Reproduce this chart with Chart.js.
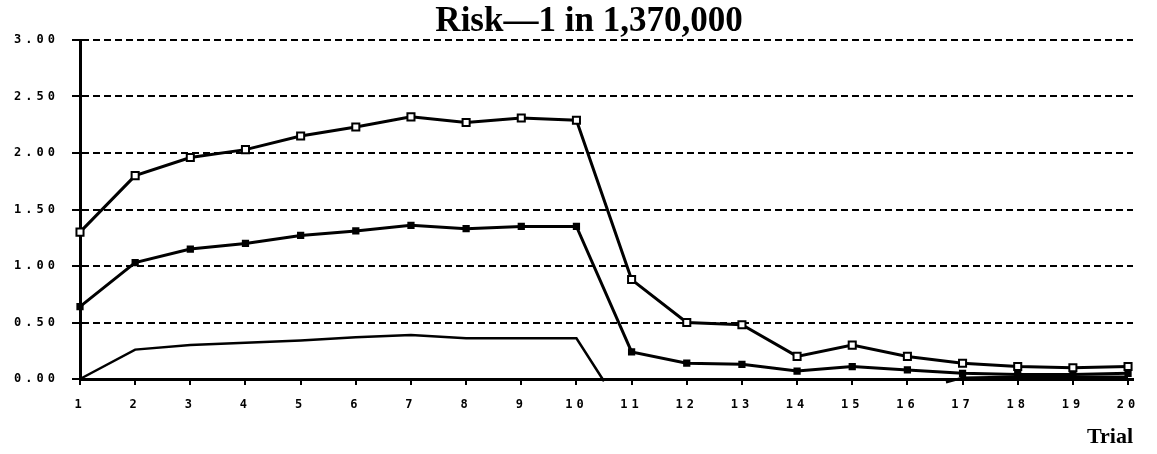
<!DOCTYPE html>
<html>
<head>
<meta charset="utf-8">
<script src="https://cdn.jsdelivr.net/npm/chart.js@4.4.1/dist/chart.umd.min.js"></script>
<style>
  html, body { margin: 0; padding: 0; background: #fff; }
  #wrap { width: 1157px; height: 454px; }
</style>
</head>
<body>
<div id="wrap"><canvas id="riskChart" width="1157" height="454"></canvas></div>
<script>
  // ---------- Data ----------
  const TITLE = "Risk\u20141 in 1,370,000";
  const X_TITLE = "Trial";
  const trials = [1, 2, 3, 4, 5, 6, 7, 8, 9, 10, 11, 12, 13, 14, 15, 16, 17, 18, 19, 20];
  const yTicks = [0, 0.5, 1, 1.5, 2, 2.5, 3];

  // upper curve, open squares
  const riskA = [1.30, 1.80, 1.96, 2.03, 2.15, 2.23, 2.32, 2.27, 2.31, 2.29,
                 0.88, 0.50, 0.48, 0.20, 0.30, 0.20, 0.14, 0.11, 0.10, 0.11];
  // middle curve, filled squares
  const riskB = [0.64, 1.03, 1.15, 1.20, 1.27, 1.31, 1.36, 1.33, 1.35, 1.35,
                 0.24, 0.14, 0.13, 0.07, 0.11, 0.08, 0.05, 0.04, 0.04, 0.05];
  // lower curve, breaks after it drops under the axis
  const riskCTrials = [1, 2, 3, 4, 5, 6, 7, 8, 9, 10, 10.5, 13.5, 16.7, 17, 18, 19, 20];
  const riskC = [0, 0.26, 0.30, 0.32, 0.34, 0.37, 0.39, 0.36, 0.36, 0.36, -0.02,
                 null, -0.03, 0.01, 0.02, 0.02, 0.02];
  // flat curve on the axis
  const riskDTrials = [1, 2, 3, 4, 5, 6, 7, 8, 9, 10];
  const riskD = [0, 0, 0, 0, 0, 0, 0, 0, 0, 0];

  // ---------- Utils ----------
  const pts = (xs, ys) => xs.map((x, i) => ({ x: x, y: ys[i] }));
  const tickFont = { family: "DejaVu Sans Mono", size: 12, weight: "bold" };

  // wider letter spacing on axis labels, like the old plotter font;
  // title nudged right so it sits over the plot, not the page
  const plotterLook = {
    id: "plotterLook",
    afterLayout(chart) {
      if (chart.titleBlock) chart.titleBlock.left = 45;
    },
    beforeDraw(chart) {
      Object.values(chart.scales).forEach((s) => {
        if (s._spaced) return;
        const orig = s.drawLabels.bind(s);
        s.drawLabels = function (area) {
          this.ctx.save();
          this.ctx.letterSpacing = "4px";
          orig(area);
          this.ctx.restore();
        };
        s._spaced = true;
      });
    }
  };

  // ---------- Chart ----------
  const ctx = document.getElementById("riskChart").getContext("2d");
  new Chart(ctx, {
    type: "line",
    data: {
      datasets: [
        {
          label: "A",
          data: pts(trials, riskA),
          borderColor: "#000",
          borderWidth: 3,
          pointStyle: "rect",
          pointRadius: 5,
          pointBackgroundColor: "#fff",
          pointBorderColor: "#000",
          pointBorderWidth: 2,
          tension: 0,
          clip: false
        },
        {
          label: "B",
          data: pts(trials, riskB),
          borderColor: "#000",
          borderWidth: 3,
          pointStyle: "rect",
          pointRadius: 3,
          pointBackgroundColor: "#000",
          pointBorderColor: "#000",
          tension: 0,
          clip: false
        },
        {
          label: "C",
          data: pts(riskCTrials, riskC),
          borderColor: "#000",
          borderWidth: 2.5,
          pointRadius: 0,
          spanGaps: false,
          tension: 0,
          clip: false
        },
        {
          label: "D",
          data: pts(riskDTrials, riskD),
          borderColor: "#000",
          borderWidth: 2,
          pointRadius: 0,
          tension: 0,
          clip: false
        }
      ]
    },
    options: {
      responsive: false,
      animation: false,
      devicePixelRatio: 1,
      layout: { padding: { left: 0, right: 24, top: 0, bottom: 0 } },
      plugins: {
        legend: { display: false },
        tooltip: { enabled: false },
        title: {
          display: true,
          text: TITLE,
          color: "#000",
          font: { family: "Liberation Serif", size: 35, weight: "bold", lineHeight: 1 },
          padding: { top: 4, bottom: 1 }
        }
      },
      scales: {
        x: {
          type: "linear",
          min: 1,
          max: 20.09,
          afterBuildTicks: (sc) => { sc.ticks = trials.map((v) => ({ value: v })); },
          afterFit: (sc) => { sc.height = 75; },
          ticks: {
            color: "#000",
            font: tickFont,
            padding: 13,
            autoSkip: false,
            maxRotation: 0,
            callback: (v) => String(v)
          },
          grid: {
            drawOnChartArea: false,
            color: "#000",
            lineWidth: 2,
            tickLength: 6
          },
          border: { color: "#000", width: 3 },
          title: {
            display: true,
            text: X_TITLE,
            align: "end",
            color: "#000",
            font: { family: "Liberation Serif", size: 22, weight: "bold" },
            padding: { top: 0, bottom: 3 }
          }
        },
        y: {
          min: 0,
          max: 3,
          afterBuildTicks: (sc) => { sc.ticks = yTicks.map((v) => ({ value: v })); },
          afterFit: (sc) => { sc.width = 80; },
          ticks: {
            color: "#000",
            font: tickFont,
            padding: 13,
            callback: (v) => v.toFixed(2)
          },
          grid: {
            color: "#000",
            lineWidth: 2,
            tickLength: 8,
            tickColor: "#000",
            tickWidth: 2
          },
          border: { color: "#000", width: 3, dash: [7, 4] }
        }
      }
    },
    plugins: [plotterLook]
  });
</script>
</body>
</html>
